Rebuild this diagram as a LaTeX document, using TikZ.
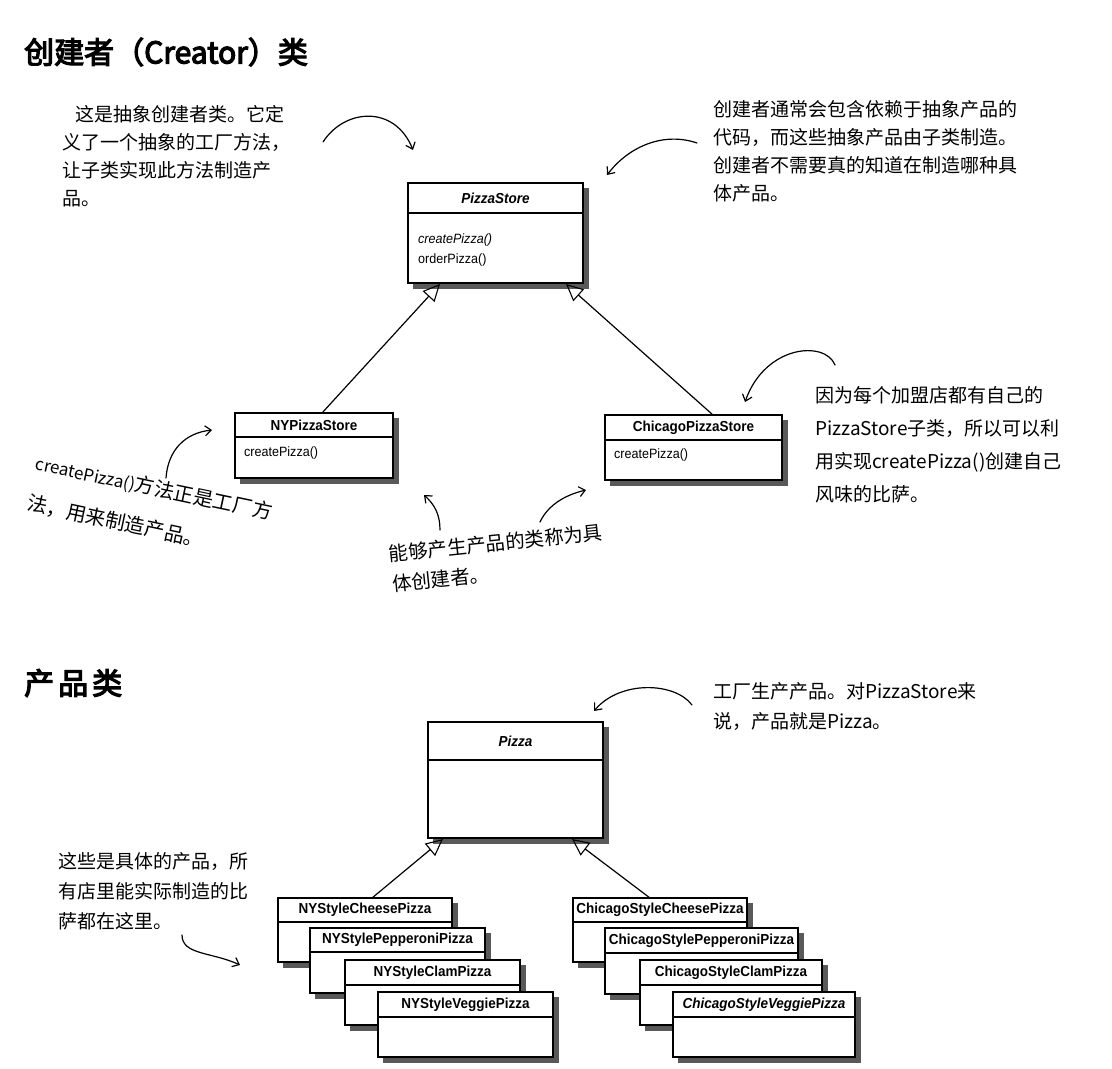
\documentclass[tikz,border=0pt]{standalone}
\usepackage{fontspec}
\newfontfamily\cjk{Noto Sans CJK SC}
\newfontfamily\cjkb[FakeBold=4]{Noto Sans CJK SC}
\newfontfamily\umlf{Liberation Sans}
\usetikzlibrary{arrows.meta,calc}
\tikzset{
  ann/.style={font=\cjk\fontsize{19}{28}\selectfont, align=left, inner sep=0pt, anchor=north west},
  ttl/.style={font=\cjkb\fontsize{30}{32}\selectfont, inner sep=0pt, anchor=west},
  umlbox/.style={draw, line width=1.1pt, fill=white, inner sep=0pt, outer sep=0pt, anchor=north west},
  cls/.style={font=\umlf\bfseries\fontsize{14.5}{16}\selectfont, inner sep=0pt, xscale=0.93},
  meth/.style={font=\umlf\fontsize{13.5}{15}\selectfont, inner sep=0pt, anchor=west, xscale=0.93},
  shade/.style={fill=black!65},
  inh/.style={line width=1.2pt, -{Triangle[open, length=17pt, width=16pt, line width=1.1pt]}},
  harrow/.style={line width=1.2pt, line cap=round, -{Straight Barb[length=6pt, width=10pt, line width=1.2pt]}},
}
\newcommand\umlcls[7]{%
  \fill[shade] (#2+5,#3+5) rectangle (#2+#4+6,#3+#5+6);
  \node[umlbox, minimum width=#4, minimum height=#5] (#1) at (#2,#3) {};
  \draw[line width=1.1pt] (#2,#3+#6) -- (#2+#4,#3+#6);
  \node[cls] (#1-t) at (#2+#4/2,#3+#6/2) {#7};
}
\begin{document}
\begin{tikzpicture}[x=1pt,y=-1pt]
\fill[white] (0,0) rectangle (1112,1069);
\useasboundingbox (0,0) rectangle (1112,1069);

% titles
\node[ttl] (title1) at (24,52) {创建者（Creator）类};
\node[ttl] (title2) at (24,683) {产\hspace{4pt}品\hspace{4pt}类};

% creator classes
\umlcls{ps}{408}{183}{175}{100}{30}{\itshape PizzaStore}
\node[meth] (ps-m1) at (418,240) {\itshape createPizza()};
\node[meth] (ps-m2) at (418,260) {orderPizza()};

\umlcls{ny}{235}{413}{158}{65}{24}{NYPizzaStore}
\node[meth] (ny-m1) at (244,453) {createPizza()};

\umlcls{ch}{605}{415}{177}{65}{25}{ChicagoPizzaStore}
\node[meth] (ch-m1) at (614,455) {createPizza()};

\coordinate (psL) at (440,284);
\coordinate (psR) at (566,284);
\coordinate (nyT) at (322,413);
\coordinate (chT) at (713,415);
\draw[inh] (nyT) -- (psL);
\draw[inh] (chT) -- (psR);

% product classes
\umlcls{pz}{428}{722}{175}{116}{38}{\itshape Pizza}

\umlcls{nyc}{278}{898}{174}{64}{24}{NYStyleCheesePizza}
\umlcls{nyp}{310}{928}{175}{65}{24}{NYStylePepperoniPizza}
\umlcls{nycl}{345}{960}{175}{65}{25}{NYStyleClamPizza}
\umlcls{nyv}{378}{992}{175}{65}{25}{NYStyleVeggiePizza}

\umlcls{chc}{573}{898}{174}{64}{24}{ChicagoStyleCheesePizza}
\umlcls{chp}{605}{928}{193}{66}{25}{ChicagoStylePepperoniPizza}
\umlcls{chcl}{640}{960}{182}{65}{25}{ChicagoStyleClamPizza}
\umlcls{chv}{673}{992}{182}{65}{25}{\itshape ChicagoStyleVeggiePizza}

\coordinate (pzL) at (443,839);
\coordinate (pzR) at (572,839);
\coordinate (nycT) at (372,898);
\coordinate (chcT) at (650,898);
\draw[inh] (nycT) -- (pzL);
\draw[inh] (chcT) -- (pzR);

% annotations
\node[ann] (n1) at (62,105) {\hspace*{13pt}这是抽象创建者类。它定\\义了一个抽象的工厂方法，\\让子类实现此方法制造产\\品。};
\node[ann] (n2) at (713,100) {创建者通常会包含依赖于抽象产品的\\代码，而这些抽象产品由子类制造。\\创建者不需要真的知道在制造哪种具\\体产品。};
\node[ann, font=\cjk\fontsize{19}{33}\selectfont] (n3) at (815,386) {因为每个加盟店都有自己的\\PizzaStore子类，所以可以利\\用实现createPizza()创建自己\\风味的比萨。};
\node[ann, font=\cjk\fontsize{20}{41}\selectfont, rotate=-12] (n4) at (38,453) {{\fontsize{17}{20}\selectfont createPizza()}方法正是工厂方\\法，用来制造产品。};
\node[ann, font=\cjk\fontsize{19.5}{30}\selectfont, rotate=6] (n5) at (388,545) {能够产生产品的类称为具\\体创建者。};
\node[ann, font=\cjk\fontsize{19}{30}\selectfont] (n6) at (713,682) {工厂生产产品。对PizzaStore来\\说，产品就是Pizza。};
\node[ann, font=\cjk\fontsize{19}{30}\selectfont] (n7) at (58,852) {这些是具体的产品，所\\有店里能实际制造的比\\萨都在这里。};

% hand-drawn arrows
\coordinate (a1s) at (323,142); \coordinate (a1e) at (413,150);
\draw[harrow] (a1s) .. controls (345,108) and (395,105) .. (a1e);
\coordinate (a2s) at (697,143); \coordinate (a2e) at (607,175);
\draw[harrow] (a2s) .. controls (665,132) and (630,145) .. (a2e);
\coordinate (a3s) at (835,365); \coordinate (a3e) at (745,402);
\draw[harrow] (a3s) .. controls (825,340) and (765,345) .. (a3e);
\coordinate (a4s) at (166,478); \coordinate (a4e) at (212,430);
\draw[harrow] (a4s) .. controls (168,450) and (185,433) .. (a4e);
\coordinate (a5s) at (440,530); \coordinate (a5e) at (424,495);
\draw[harrow] (a5s) .. controls (440,515) and (435,505) .. (a5e);
\coordinate (a6s) at (540,522); \coordinate (a6e) at (586,490);
\draw[harrow] (a6s) .. controls (548,505) and (565,495) .. (a6e);
\coordinate (a7s) at (692,705); \coordinate (a7e) at (594,711);
\draw[harrow] (a7s) .. controls (675,682) and (620,680) .. (a7e);
\coordinate (a8s) at (182,935); \coordinate (a8e) at (240,965);
\draw[harrow] (a8s) .. controls (182,955) and (212,952) .. (a8e);
\end{tikzpicture}
\end{document}
